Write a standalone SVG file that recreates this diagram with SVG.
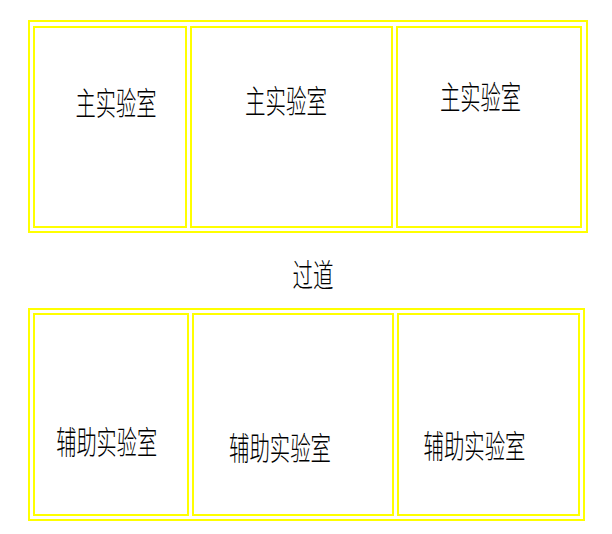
<svg xmlns="http://www.w3.org/2000/svg" width="612" height="534" viewBox="0 0 612 534">
<style>
.outer{fill:none;stroke:#ffff00;stroke-width:2}
.room{fill:none;stroke:#ffff00;stroke-width:2}
.lbl{font-family:"Noto Sans CJK SC","Noto Sans CJK JP",sans-serif;font-size:32px;fill:#000;text-anchor:middle;dominant-baseline:central;font-weight:300}
</style>
<rect width="612" height="534" fill="#fff"/>
<g id="block-top">
<rect class="outer" x="29" y="21" width="558" height="211"/>
</g>
<g id="lab-main-1">
<rect class="room" x="34" y="27" width="152" height="200"/>
<text class="lbl" x="116" y="101" textLength="81" lengthAdjust="spacingAndGlyphs">主实验室</text>
</g>
<g id="lab-main-2">
<rect class="room" x="191" y="27" width="201" height="200"/>
<text class="lbl" x="286" y="99" textLength="82" lengthAdjust="spacingAndGlyphs">主实验室</text>
</g>
<g id="lab-main-3">
<rect class="room" x="397" y="27" width="184" height="200"/>
<text class="lbl" x="480.5" y="95" textLength="81" lengthAdjust="spacingAndGlyphs">主实验室</text>
</g>
<g id="corridor">
<text class="lbl" x="313" y="273" textLength="41" lengthAdjust="spacingAndGlyphs">过道</text>
</g>
<g id="block-bottom">
<rect class="outer" x="29" y="309" width="555" height="211"/>
</g>
<g id="lab-aux-1">
<rect class="room" x="34" y="314" width="154" height="201"/>
<text class="lbl" x="106.7" y="440" textLength="101" lengthAdjust="spacingAndGlyphs">辅助实验室</text>
</g>
<g id="lab-aux-2">
<rect class="room" x="193" y="314" width="200" height="201"/>
<text class="lbl" x="280" y="446" textLength="102" lengthAdjust="spacingAndGlyphs">辅助实验室</text>
</g>
<g id="lab-aux-3">
<rect class="room" x="398" y="314" width="181" height="201"/>
<text class="lbl" x="474.5" y="443.5" textLength="102" lengthAdjust="spacingAndGlyphs">辅助实验室</text>
</g>
<g id="connectors"></g>
</svg>
